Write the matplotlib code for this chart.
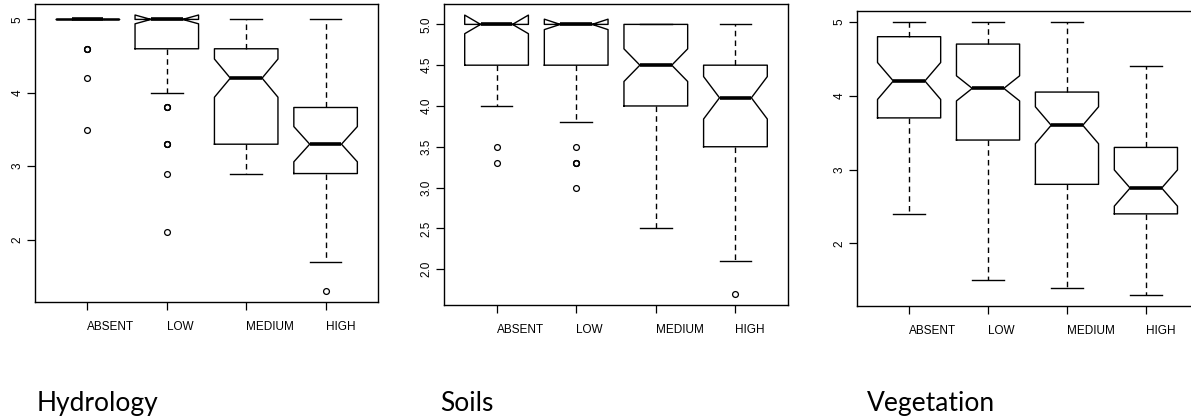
import matplotlib
matplotlib.use("Agg")
import matplotlib.pyplot as plt

categorias = ['ABSENT', 'LOW', 'MEDIUM', 'HIGH']

# Hydrology
hid_med = [5.0, 5.0, 4.2, 3.3]
hid_q1 = [5.0, 4.6, 3.3, 2.9]
hid_q3 = [5.0, 5.0, 4.6, 3.8]
hid_wlo = [5.0, 4.0, 2.9, 1.7]
hid_whi = [5.0, 5.0, 5.0, 5.0]
hid_ci = [0.0, 0.06, 0.26, 0.24]
hid_out = [[4.6, 4.6, 4.6, 4.2, 3.5], [3.8, 3.8, 3.8, 3.3, 3.3, 3.3, 2.9, 2.1], [], [1.3]]

# Soils
solo_med = [5.0, 5.0, 4.5, 4.1]
solo_q1 = [4.5, 4.5, 4.0, 3.5]
solo_q3 = [5.0, 5.0, 5.0, 4.5]
solo_wlo = [4.0, 3.8, 2.5, 2.1]
solo_whi = [5.0, 5.0, 5.0, 5.0]
solo_ci = [0.114, 0.064, 0.2, 0.26]
solo_out = [[3.5, 3.3], [3.5, 3.3, 3.3, 3.3, 3.0], [], [1.7]]

# Vegetation
veg_med = [4.2, 4.1, 3.6, 2.75]
veg_q1 = [3.7, 3.4, 2.8, 2.4]
veg_q3 = [4.8, 4.7, 4.05, 3.3]
veg_wlo = [2.4, 1.5, 1.4, 1.3]
veg_whi = [5.0, 5.0, 5.0, 4.4]
veg_ci = [0.25, 0.17, 0.25, 0.245]
veg_out = [[], [], [], []]

W, H = 1191, 418


def montar_stats(med, q1, q3, wlo, whi, ci, out):
    stats = []
    for i in range(len(med)):
        stats.append({'med': med[i], 'q1': q1[i], 'q3': q3[i],
                      'whislo': wlo[i], 'whishi': whi[i],
                      'cilo': med[i] - ci[i], 'cihi': med[i] + ci[i],
                      'fliers': out[i]})
    return stats


def painel(fig, box_px, stats, ylim, yticks, ylabels, titulo, titulo_x):
    esq, dir_, topo, base = box_px
    ax = fig.add_axes([esq / W, (H - base) / H, (dir_ - esq) / W, (base - topo) / H])
    ax.bxp(stats, positions=[1, 2, 3, 4], widths=0.8, capwidths=0.4,
           shownotches=True, showfliers=True, manage_ticks=False,
           boxprops=dict(color='black', linewidth=1.0),
           whiskerprops=dict(color='black', linewidth=1.0, linestyle=(0, (4, 3))),
           capprops=dict(color='black', linewidth=1.0),
           medianprops=dict(color='black', linewidth=2.6, solid_capstyle='butt'),
           flierprops=dict(marker='o', markersize=4.2, markerfacecolor='none',
                           markeredgecolor='black', markeredgewidth=0.9))
    ax.set_xlim(0.34, 4.66)
    ax.set_ylim(*ylim)
    ax.set_xticks([1, 2, 3, 4])
    ax.set_xticklabels(categorias, ha='left', fontsize=8.5, family='Liberation Sans')
    ax.set_yticks(yticks)
    ax.set_yticklabels(ylabels, rotation=90, va='center', fontsize=8.5,
                       family='Liberation Sans')
    ax.tick_params(axis='x', length=5.5, width=0.9, pad=8)
    ax.tick_params(axis='y', length=5.5, width=0.9, pad=3)
    for s in ax.spines.values():
        s.set_linewidth(1.0)
        s.set_color('black')
    fig.text(titulo_x / W, (H - 411) / H, titulo, fontsize=19, family='Lato',
             ha='left', va='baseline')
    return ax


fig = plt.figure(figsize=(W / 100, H / 100), dpi=100)

painel(fig, (35, 378, 4, 302),
       montar_stats(hid_med, hid_q1, hid_q3, hid_wlo, hid_whi, hid_ci, hid_out),
       (1.15, 5.21), [2, 3, 4, 5], ['2', '3', '4', '5'], 'Hydrology', 37)

painel(fig, (444, 788, 4, 305),
       montar_stats(solo_med, solo_q1, solo_q3, solo_wlo, solo_whi, solo_ci, solo_out),
       (1.56, 5.25), [2.0, 2.5, 3.0, 3.5, 4.0, 4.5, 5.0],
       ['2.0', '2.5', '3.0', '3.5', '4.0', '4.5', '5.0'], 'Soils', 440)

painel(fig, (857, 1198, 11, 306),
       montar_stats(veg_med, veg_q1, veg_q3, veg_wlo, veg_whi, veg_ci, veg_out),
       (1.152, 5.148), [2, 3, 4, 5], ['2', '3', '4', '5'], 'Vegetation', 867)

fig.savefig('out.png', dpi=100)
